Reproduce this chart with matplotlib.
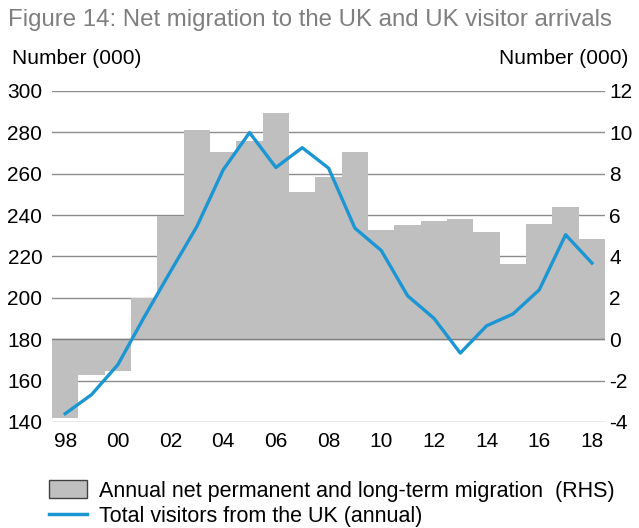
import matplotlib
matplotlib.use("Agg")
import matplotlib.pyplot as plt
from matplotlib.patches import Patch
from matplotlib.lines import Line2D

plt.rcParams['font.family'] = ['Liberation Sans', 'DejaVu Sans']
plt.rcParams['axes.unicode_minus'] = False

years = list(range(1998, 2019))
# net migration, RHS (000)
migration = [-3.83, -1.74, -1.55, 2.0, 5.97, 10.13, 9.03, 9.6, 10.95, 7.1, 7.84,
             9.07, 5.3, 5.54, 5.73, 5.83, 5.17, 3.64, 5.59, 6.38, 4.86]
# visitors from the UK, LHS (000)
visitors = [144.0, 153.2, 167.7, 190.7, 212.8, 234.5, 261.9, 279.9, 263.0, 272.6, 262.7,
            233.7, 222.9, 201.0, 190.1, 173.3, 186.5, 192.2, 203.9, 230.5, 216.8]
tick_years = list(range(1998, 2019, 2))
tick_labels = ["98", "00", "02", "04", "06", "08", "10", "12", "14", "16", "18"]

bar_color = "#bfbfbf"
line_color = "#1b96d3"
grid_color = "#8c8c8c"

fig = plt.figure(figsize=(6.39, 5.28), dpi=100)
ax2 = fig.add_axes([0.0814, 0.2008, 0.8656, 0.6269])
ax1 = ax2.twinx()
# left axis for the line must sit on top of the bars
ax1.set_zorder(ax2.get_zorder() + 1)
ax1.patch.set_visible(False)

ax2.bar(years, migration, width=1.0, color=bar_color, linewidth=0, zorder=2)
ax2.axhline(0, color="#7f7f7f", linewidth=1.0, zorder=3)
ax2.set_ylim(-4, 12)
ax2.set_yticks(range(-4, 13, 2))
ax2.set_axisbelow(True)
ax2.yaxis.grid(True, color=grid_color, linewidth=1.0)
ax2.yaxis.tick_right()
ax2.yaxis.set_label_position("right")

ax1.plot(years, visitors, color=line_color, linewidth=2.4)
ax1.set_ylim(140, 300)
ax1.set_yticks(range(140, 301, 20))
ax1.yaxis.tick_left()

ax2.set_xlim(1997.5, 2018.5)
ax2.set_xticks(tick_years)
ax2.set_xticklabels(tick_labels)

for a in (ax1, ax2):
    for s in a.spines.values():
        s.set_visible(False)
    a.tick_params(length=0, labelsize=15, colors="black", pad=7)
ax2.tick_params(axis="y", pad=3)

fig.text(0.012, 0.962, "Figure 14: Net migration to the UK and UK visitor arrivals",
         fontsize=17.3, color="#7f7f7f", va="center", ha="left")
fig.text(0.018, 0.89, "Number (000)", fontsize=15, va="center", ha="left")
fig.text(0.984, 0.89, "Number (000)", fontsize=15, va="center", ha="right")

handles = [Patch(facecolor=bar_color, edgecolor="#404040", linewidth=1.0),
           Line2D([0], [0], color=line_color, linewidth=2.5)]
labels = ["Annual net permanent and long-term migration  (RHS)",
          "Total visitors from the UK (annual)"]
fig.legend(handles, labels, loc="upper left", bbox_to_anchor=(0.076, 0.09),
           frameon=False, fontsize=15.5, handlelength=1.8, handleheight=0.9,
           handletextpad=0.55, labelspacing=0.18, borderaxespad=0, borderpad=0)

fig.savefig("out.png", dpi=100)
